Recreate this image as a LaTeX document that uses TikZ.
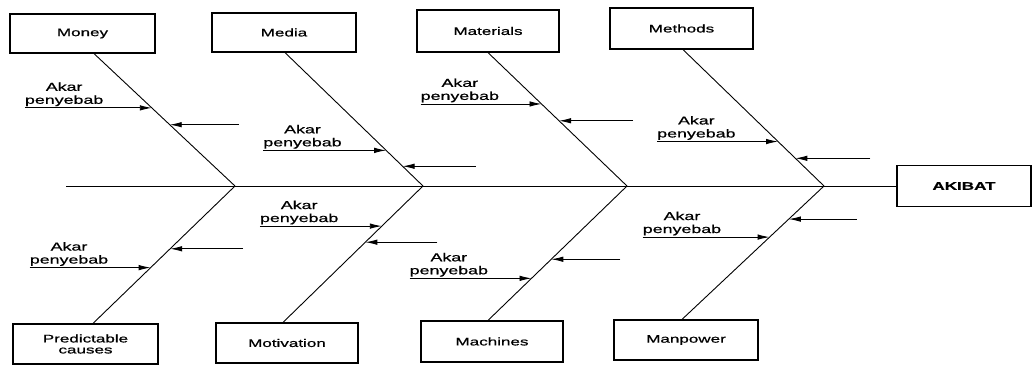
\documentclass[tikz,border=0pt]{standalone}
\usepackage{fontspec}
\newfontfamily\diafont[FakeStretch=1.55,FakeBold=0.7]{Liberation Sans}
\usetikzlibrary{arrows.meta,calc}
\begin{document}
\begin{tikzpicture}[x=1pt,y=-1pt,
  line/.style={line width=0.9pt},
  box/.style={draw,line width=1.2pt,inner sep=0pt,align=center,font=\diafont\fontsize{11}{11}\selectfont},
  arr/.style={line width=0.9pt,-{Latex[length=12pt,width=5.5pt]}},
  lbl/.style={font=\diafont\fontsize{11.5}{13}\selectfont,align=center,inner sep=0pt,anchor=south west}]
\useasboundingbox (0,0) rectangle (1032,364);

% boxes
\node[box,minimum width=145pt,minimum height=39pt] (money) at (82.5,33.5) {Money};
\node[box,minimum width=144pt,minimum height=39pt] (media) at (284,32.5) {Media};
\node[box,minimum width=142pt,minimum height=42pt] (materials) at (488,31) {Materials};
\node[box,minimum width=143pt,minimum height=41pt] (methods) at (681.5,28.5) {Methods};
\node[box,minimum width=134pt,minimum height=41pt,font=\diafont\bfseries\fontsize{11}{11}\selectfont] (akibat) at (964,186) {AKIBAT};
\node[box,minimum width=145pt,minimum height=40pt] (pred) at (85.5,344) {Predictable\\causes};
\node[box,minimum width=142pt,minimum height=40pt] (motiv) at (287,343) {Motivation};
\node[box,minimum width=142pt,minimum height=41pt] (mach) at (492,341.5) {Machines};
\node[box,minimum width=144pt,minimum height=40pt] (manp) at (686,340) {Manpower};

% spine
\coordinate (tail) at (66,186);
\coordinate (j1) at (235,186);
\coordinate (j2) at (423,186);
\coordinate (j3) at (627,186);
\coordinate (j4) at (824,186);
\draw[line] (tail) -- (akibat.west);

% bones
\coordinate (d1) at ([xshift=11.5pt]money.south);
\coordinate (d2) at ([xshift=1pt]media.south);
\coordinate (d3) at (materials.south);
\coordinate (d4) at ([xshift=1.5pt]methods.south);
\coordinate (d5) at ([xshift=7.5pt]pred.north);
\coordinate (d6) at ([xshift=-4pt]motiv.north);
\coordinate (d7) at ([xshift=-4pt]mach.north);
\coordinate (d8) at ([xshift=-4pt]manp.north);
\draw[line] (d1) -- (j1);
\draw[line] (d2) -- (j2);
\draw[line] (d3) -- (j3);
\draw[line] (d4) -- (j4);
\draw[line] (j1) -- (d5);
\draw[line] (j2) -- (d6);
\draw[line] (j3) -- (d7);
\draw[line] (j4) -- (d8);

% Money
\coordinate (a1) at ($(d1)!0.41!(j1)$);
\draw[arr] ($(a1)+(-127,0)$) coordinate (s1) -- (a1);
\node[lbl] (l1) at ([yshift=1.5pt]s1) {Akar\\penyebab};
\coordinate (b1) at ($(d1)!0.537!(j1)$);
\draw[arr] ($(b1)+(69,0)$) coordinate (e1) -- (b1);

% Media
\coordinate (a2) at ($(d2)!0.733!(j2)$);
\draw[arr] ($(a2)+(-123,0)$) coordinate (s2) -- (a2);
\node[lbl] (l2) at ([yshift=1.5pt]s2) {Akar\\penyebab};
\coordinate (b2) at ($(d2)!0.852!(j2)$);
\draw[arr] ($(b2)+(73,0)$) coordinate (e2) -- (b2);

% Materials
\coordinate (a3) at ($(d3)!0.385!(j3)$);
\draw[arr] ($(a3)+(-121,0)$) coordinate (s3) -- (a3);
\node[lbl] (l3) at ([yshift=1.5pt]s3) {Akar\\penyebab};
\coordinate (b3) at ($(d3)!0.511!(j3)$);
\draw[arr] ($(b3)+(74,0)$) coordinate (e3) -- (b3);

% Methods
\coordinate (a4) at ($(d4)!0.674!(j4)$);
\draw[arr] ($(a4)+(-121,0)$) coordinate (s4) -- (a4);
\node[lbl] (l4) at ([yshift=1.5pt]s4) {Akar\\penyebab};
\coordinate (b4) at ($(d4)!0.797!(j4)$);
\draw[arr] ($(b4)+(75,0)$) coordinate (e4) -- (b4);

% Predictable causes
\coordinate (a5) at ($(j1)!0.594!(d5)$);
\draw[arr] ($(a5)+(-121,0)$) coordinate (s5) -- (a5);
\node[lbl] (l5) at ([yshift=1.5pt]s5) {Akar\\penyebab};
\coordinate (b5) at ($(j1)!0.457!(d5)$);
\draw[arr] ($(b5)+(73,0)$) coordinate (e5) -- (b5);

% Motivation
\coordinate (a6) at ($(j2)!0.294!(d6)$);
\draw[arr] ($(a6)+(-122,0)$) coordinate (s6) -- (a6);
\node[lbl] (l6) at ([yshift=1.5pt]s6) {Akar\\penyebab};
\coordinate (b6) at ($(j2)!0.412!(d6)$);
\draw[arr] ($(b6)+(72,0)$) coordinate (e6) -- (b6);

% Machines
\coordinate (a7) at ($(j3)!0.687!(d7)$);
\draw[arr] ($(a7)+(-122,0)$) coordinate (s7) -- (a7);
\node[lbl] (l7) at ([yshift=1.5pt]s7) {Akar\\penyebab};
\coordinate (b7) at ($(j3)!0.545!(d7)$);
\draw[arr] ($(b7)+(69,0)$) coordinate (e7) -- (b7);

% Manpower
\coordinate (a8) at ($(j4)!0.383!(d8)$);
\draw[arr] ($(a8)+(-127,0)$) coordinate (s8) -- (a8);
\node[lbl] (l8) at ([yshift=1.5pt]s8) {Akar\\penyebab};
\coordinate (b8) at ($(j4)!0.248!(d8)$);
\draw[arr] ($(b8)+(68,0)$) coordinate (e8) -- (b8);
\end{tikzpicture}
\end{document}
